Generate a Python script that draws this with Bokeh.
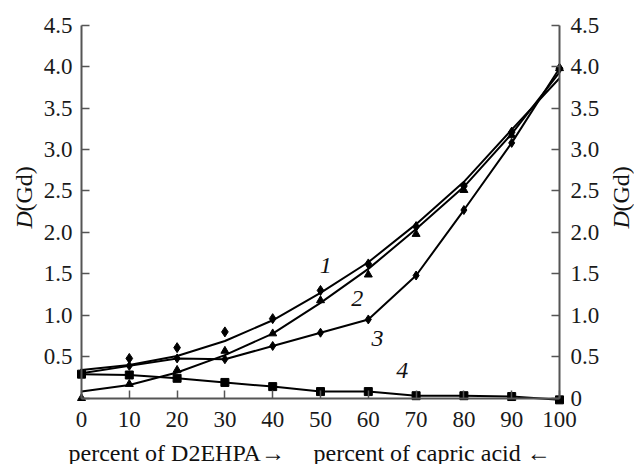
import math
from bokeh.plotting import figure
from bokeh.models import Range1d, LinearAxis, FixedTicker, PrintfTickFormatter, Label
from bokeh.embed import file_html
from bokeh.resources import INLINE

# ---- data ----
x = [0, 10, 20, 30, 40, 50, 60, 70, 80, 90, 100]
# measured points
s1_pts = [0.30, 0.48, 0.61, 0.80, 0.96, 1.30, 1.62, 2.07, 2.56, 3.21, 3.98]
s2_pts = [0.00, 0.17, 0.34, 0.57, 0.78, 1.18, 1.49, 1.98, 2.51, 3.17, 3.98]
s3_pts = [0.30, 0.39, 0.48, 0.47, 0.63, 0.79, 0.95, 1.48, 2.27, 3.08, 3.98]
s4_pts = [0.29, 0.28, 0.24, 0.19, 0.14, 0.08, 0.08, 0.03, 0.03, 0.02, -0.02]
# drawn curves (values of the fitted lines read at each x)
s1_curve = [0.34, 0.40, 0.51, 0.69, 0.94, 1.27, 1.64, 2.10, 2.61, 3.24, 3.86]
s2_curve = [0.08, 0.16, 0.31, 0.52, 0.78, 1.15, 1.56, 2.04, 2.55, 3.19, 3.93]
s3_curve = s3_pts
s4_curve = s4_pts

curve_labels = ["1", "2", "3", "4"]
label_pos_x = [51.1, 57.7, 61.9, 67.1]
label_pos_y = [1.60, 1.20, 0.72, 0.33]

x_ticks = [0, 10, 20, 30, 40, 50, 60, 70, 80, 90, 100]
y_ticks = [0, 0.5, 1.0, 1.5, 2.0, 2.5, 3.0, 3.5, 4.0, 4.5]

FONT = "Liberation Serif"
AX = "#555555"
W, H = 634, 464

p = figure(frame_width=W, frame_height=H,
           min_border_left=0, min_border_right=0, min_border_top=0, min_border_bottom=0,
           x_range=Range1d(-81 / 4.78, (W - 81) / 4.78),
           y_range=Range1d(-(H - 397.7) / 82.89, 397.7 / 82.89),
           output_backend="svg", toolbar_location=None,
           x_axis_location=None, y_axis_location=None)
p.outline_line_color = None
p.xgrid.visible = False
p.ygrid.visible = False
p.background_fill_color = "white"
p.border_fill_color = "white"


def style_axis(ax):
    ax.axis_line_color = AX
    ax.axis_line_width = 2
    ax.major_tick_line_color = AX
    ax.major_tick_line_width = 1.5
    ax.major_tick_in = 8
    ax.major_tick_out = 0
    ax.minor_tick_line_color = None
    ax.major_label_text_font = FONT
    ax.major_label_text_font_size = "23px"
    ax.major_label_text_color = "#1a1a1a"


xax = LinearAxis(ticker=FixedTicker(ticks=x_ticks), bounds=(0, 100), fixed_location=0)
style_axis(xax)
xax.major_label_standoff = 14
p.add_layout(xax, "below")

lax = LinearAxis(ticker=FixedTicker(ticks=y_ticks), bounds=(0, 4.5), fixed_location=0,
                 formatter=PrintfTickFormatter(format="%.1f"))
style_axis(lax)
lax.major_label_overrides = {0: ""}
lax.major_label_standoff = 9
p.add_layout(lax, "left")

rax = LinearAxis(ticker=FixedTicker(ticks=y_ticks), bounds=(0, 4.5), fixed_location=100,
                 formatter=PrintfTickFormatter(format="%.1f"))
style_axis(rax)
rax.major_label_overrides = {0: "0"}
rax.major_label_standoff = 11
p.add_layout(rax, "right")

LW = 2
p.line(x, s1_curve, line_color="black", line_width=LW)
p.line(x, s2_curve, line_color="black", line_width=LW)
p.line(x, s3_curve, line_color="black", line_width=LW)
p.line(x, s4_curve, line_color="black", line_width=LW)

p.scatter(x, s1_pts, marker="diamond", size=10, color="black")
p.scatter(x, s2_pts, marker="triangle", size=8, color="black")
p.scatter(x, s3_pts, marker="diamond", size=9, color="black")
p.scatter(x, s4_pts, marker="square", size=8, color="black")

for t, lx, ly in zip(curve_labels, label_pos_x, label_pos_y):
    p.add_layout(Label(x=lx, y=ly, text=t, text_font=FONT, text_font_style="italic",
                       text_font_size="24px", text_align="center", text_baseline="middle",
                       text_color="#111111"))

# y-axis titles: italic D + (Gd), rotated (screen units, origin bottom-left)
for bx in (23, 620):
    p.add_layout(Label(x=bx, y=236, x_units="screen", y_units="screen", text="D",
                       angle=math.pi / 2, text_font=FONT, text_font_style="italic",
                       text_font_size="24px", text_align="left", text_baseline="middle",
                       text_color="#111111"))
    p.add_layout(Label(x=bx, y=253, x_units="screen", y_units="screen", text="(Gd)",
                       angle=math.pi / 2, text_font=FONT,
                       text_font_size="24px", text_align="left", text_baseline="middle",
                       text_color="#111111"))

# x-axis title in two parts
p.add_layout(Label(x=68, y=12, x_units="screen", y_units="screen",
                   text="percent of D2EHPA\u2192", text_font=FONT, text_font_size="24px",
                   text_align="left", text_baseline="middle", text_color="#111111"))
p.add_layout(Label(x=313, y=12, x_units="screen", y_units="screen",
                   text="percent of capric acid \u2190", text_font=FONT, text_font_size="24px",
                   text_align="left", text_baseline="middle", text_color="#111111"))

open("out.html", "w").write(file_html(p, INLINE))
